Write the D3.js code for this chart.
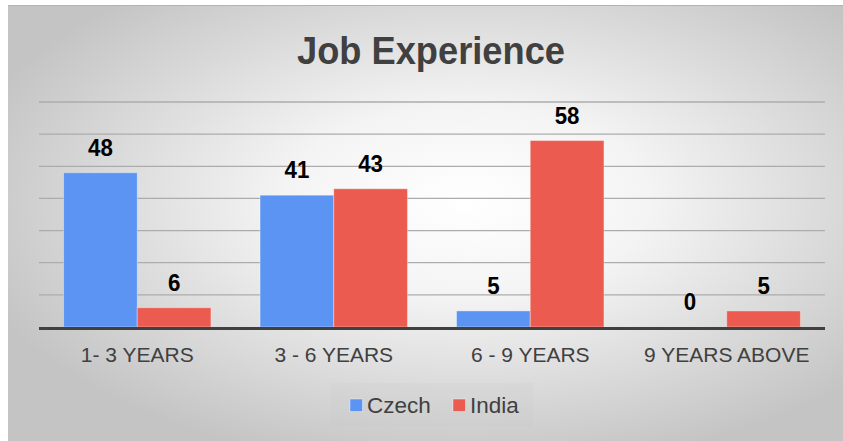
<!DOCTYPE html>
<html>
<head>
<meta charset="utf-8">
<script src="https://cdn.jsdelivr.net/npm/d3@7"></script>
<style>
  body { margin: 0; background: #fff; }
  svg { display: block; font-family: 'Liberation Sans', Arial, sans-serif; }
</style>
</head>
<body>
<div id="chart"></div>
<script>
const categories = ['1- 3 YEARS', '3 - 6 YEARS', '6 - 9 YEARS', '9 YEARS ABOVE']
const seriesNames = ['Czech', 'India']
const czech = [48, 41, 5, 0]
const india = [6, 43, 58, 5]
const yTicks = [0, 10, 20, 30, 40, 50, 60, 70]

const width = 843
const height = 441
const plot = { left: 39, right: 825, top: 102, bottom: 327 }
const colors = { Czech: '#5b94f2', India: '#eb5b4f' }
const textColor = '#404040'

const svg = d3.select('#chart').append('svg')
  .attr('width', width)
  .attr('height', height)

// radial background like the spreadsheet chart
const defs = svg.append('defs')
const grad = defs.append('radialGradient')
  .attr('id', 'bg')
  .attr('cx', '55%').attr('cy', '45%').attr('r', '62%')
grad.append('stop').attr('offset', '0%').attr('stop-color', '#ffffff')
grad.append('stop').attr('offset', '35%').attr('stop-color', '#f4f4f4')
grad.append('stop').attr('offset', '100%').attr('stop-color', '#c4c4c4')

svg.append('rect')
  .attr('x', 8).attr('y', 5)
  .attr('width', width - 8).attr('height', height - 5)
  .attr('fill', 'url(#bg)')
svg.append('line')
  .attr('x1', 8).attr('x2', width).attr('y1', 5.5).attr('y2', 5.5)
  .attr('stroke', '#b3b3b3')

const y = d3.scaleLinear().domain([0, 70]).range([plot.bottom, plot.top])

const x0 = d3.scaleBand()
  .domain(categories)
  .range([plot.left, plot.right])
  .paddingInner(0.25)
  .paddingOuter(0.125)

const x1 = d3.scaleBand()
  .domain(seriesNames)
  .range([0, x0.bandwidth()])

// gridlines
svg.append('g')
  .selectAll('line')
  .data(yTicks.slice(1))
  .join('line')
  .attr('x1', plot.left).attr('x2', plot.right)
  .attr('y1', d => y(d)).attr('y2', d => y(d))
  .attr('stroke', '#acacac')
  .attr('stroke-width', 1.3)

const rows = categories.map((c, i) => ({ cat: c, values: [
  { key: 'Czech', value: czech[i] },
  { key: 'India', value: india[i] }
] }))

const groups = svg.append('g')
  .selectAll('g')
  .data(rows)
  .join('g')
  .attr('transform', d => `translate(${x0(d.cat)},0)`)

groups.selectAll('rect')
  .data(d => d.values)
  .join('rect')
  .attr('x', d => x1(d.key))
  .attr('y', d => y(d.value))
  .attr('width', x1.bandwidth())
  .attr('height', d => y(0) - y(d.value))
  .attr('fill', d => colors[d.key])
  .attr('stroke', 'rgba(255,255,255,0.35)')
  .attr('stroke-width', 1)

// value labels, slightly condensed like the original
groups.selectAll('text')
  .data(d => d.values)
  .join('text')
  .attr('transform', d => `translate(${x1(d.key) + x1.bandwidth() / 2},${y(d.value) - 17}) scale(0.95,1)`)
  .attr('text-anchor', 'middle')
  .attr('font-size', 23.5)
  .attr('font-weight', 'bold')
  .attr('fill', '#000')
  .text(d => d.value)

// baseline
svg.append('line')
  .attr('x1', plot.left).attr('x2', plot.right)
  .attr('y1', y(0) + 1.5).attr('y2', y(0) + 1.5)
  .attr('stroke', '#404040')
  .attr('stroke-width', 3)

// category axis
const xAxis = d3.axisBottom(x0).tickSize(0).tickPadding(0)
svg.append('g')
  .attr('transform', `translate(0,${y(0)})`)
  .call(xAxis)
  .call(g => g.select('.domain').remove())
  .call(g => g.selectAll('text')
    .attr('dy', null)
    .attr('y', 35)
    .attr('font-size', 21)
    .attr('font-family', "'Liberation Sans', Arial, sans-serif")
    .attr('fill', textColor))

// title
svg.append('text')
  .attr('transform', 'translate(431,64) scale(0.93,1)')
  .attr('text-anchor', 'middle')
  .attr('font-size', 39)
  .attr('font-weight', 'bold')
  .attr('fill', textColor)
  .text('Job Experience')

// legend
const legend = svg.append('g')
legend.append('rect')
  .attr('x', 331).attr('y', 383)
  .attr('width', 202).attr('height', 44)
  .attr('fill', 'rgba(200,200,200,0.18)')

const legendX = [350, 453]
const item = legend.selectAll('g')
  .data(seriesNames)
  .join('g')
  .attr('transform', (d, i) => `translate(${legendX[i]},399)`)
item.append('rect')
  .attr('width', 12.5).attr('height', 12.5)
  .attr('fill', d => colors[d])
  .attr('stroke', 'rgba(255,255,255,0.4)')
item.append('text')
  .attr('x', 17)
  .attr('y', 13.5)
  .attr('font-size', 22.5)
  .attr('fill', textColor)
  .text(d => d)
</script>
</body>
</html>
